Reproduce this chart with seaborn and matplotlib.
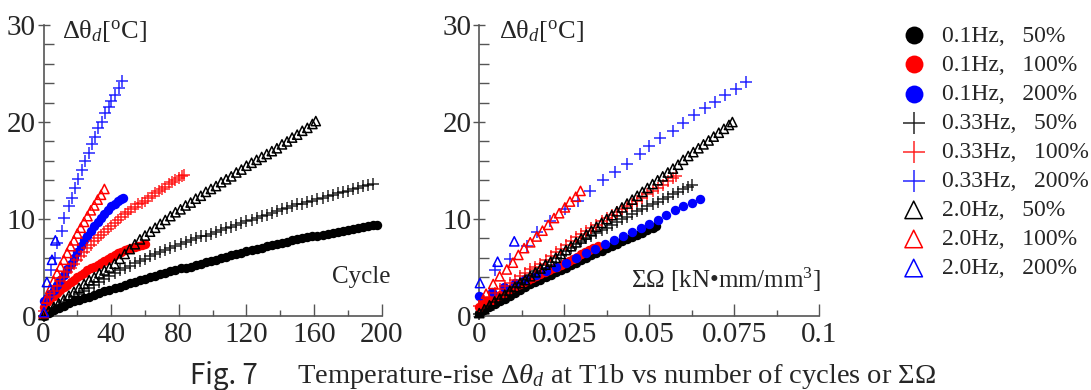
import matplotlib
matplotlib.use("Agg")
import matplotlib.pyplot as plt
from matplotlib.ticker import MultipleLocator, FuncFormatter
import seaborn as sns

# ---- datos (ciclos -> izquierda, Omega -> derecha) ----
# 0.1Hz 50%
c_01_50 = list(range(0, 196, 3)) + [197]
t_01_50_c = [0.0, 0.3, 0.6, 0.8, 1.0, 1.3, 1.5, 1.7, 1.9, 2.0, 2.2, 2.4, 2.6, 2.7, 2.9, 3.0,
             3.2, 3.4, 3.5, 3.7, 3.8, 4.0, 4.1, 4.3, 4.4, 4.6, 4.7, 4.9, 5.0, 5.1, 5.3, 5.4,
             5.6, 5.7, 5.8, 6.0, 6.1, 6.3, 6.4, 6.5, 6.7, 6.8, 6.9, 7.0, 7.2, 7.3, 7.4, 7.5,
             7.6, 7.8, 7.9, 8.0, 8.1, 8.2, 8.3, 8.4, 8.5, 8.6, 8.7, 8.8, 8.9, 9.0, 9.1, 9.2,
             9.3, 9.35, 9.4]
w_01_50 = [0.0, 0.0015, 0.003, 0.0045, 0.006, 0.0075, 0.009, 0.0105, 0.012, 0.0135, 0.015,
           0.0165, 0.018, 0.0195, 0.021, 0.0225, 0.024, 0.0255, 0.027, 0.0285, 0.03, 0.0315,
           0.033, 0.0345, 0.036, 0.0375, 0.039, 0.0405, 0.042, 0.0435, 0.045, 0.0465, 0.048,
           0.0495, 0.051, 0.052]
t_01_50_w = [0.3, 0.6, 0.9, 1.2, 1.5, 1.8, 2.1, 2.4, 2.7, 3.0, 3.25, 3.5, 3.75, 4.0, 4.25,
             4.5, 4.75, 5.0, 5.25, 5.5, 5.75, 6.0, 6.25, 6.5, 6.75, 7.0, 7.2, 7.45, 7.7, 7.9,
             8.15, 8.4, 8.6, 8.85, 9.1, 9.3]

# 0.1Hz 100%
c_01_100 = list(range(0, 61, 2))
t_01_100_c = [0.9, 1.4, 1.8, 2.1, 2.4, 2.7, 3.0, 3.2, 3.5, 3.7, 4.0, 4.2, 4.4, 4.7, 4.9, 5.1,
              5.3, 5.5, 5.7, 5.9, 6.1, 6.3, 6.5, 6.6, 6.8, 6.9, 7.0, 7.1, 7.2, 7.3, 7.4]
w_01_100 = [0.0, 0.0012, 0.0024, 0.0036, 0.0048, 0.006, 0.0072, 0.0084, 0.0096, 0.0108,
            0.012, 0.0132, 0.0144, 0.0156, 0.0168, 0.018, 0.0192, 0.0204, 0.0216, 0.0228,
            0.024, 0.0252, 0.0264, 0.0276, 0.0288, 0.03, 0.0312, 0.0324, 0.0336, 0.0348]
t_01_100_w = [0.9, 1.2, 1.5, 1.7, 2.0, 2.2, 2.4, 2.7, 2.9, 3.1, 3.3, 3.5, 3.7, 3.9, 4.1, 4.3,
              4.5, 4.7, 4.9, 5.1, 5.3, 5.5, 5.7, 5.9, 6.1, 6.4, 6.6, 6.8, 7.0, 7.2]

# 0.1Hz 200%
c_01_200 = list(range(0, 47, 2)) + [47]
t_01_200_c = [1.5, 1.9, 2.3, 2.7, 3.2, 3.7, 4.2, 4.8, 5.4, 6.0, 6.6, 7.2, 7.8, 8.3, 8.8, 9.3,
              9.7, 10.1, 10.5, 10.9, 11.3, 11.6, 11.9, 12.1, 12.2]
w_01_200 = [0.0, 0.0036, 0.0073, 0.0105, 0.0136, 0.0166, 0.0196, 0.0226, 0.0256, 0.0285,
            0.0313, 0.0341, 0.0369, 0.0396, 0.0423, 0.0449, 0.0475, 0.05, 0.0525, 0.055,
            0.0575, 0.06, 0.0625, 0.065]
t_01_200_w = [2.1, 2.5, 3.0, 3.4, 3.8, 4.2, 4.6, 5.1, 5.5, 6.0, 6.5, 6.9, 7.4, 7.8, 8.2, 8.7,
              9.1, 9.5, 9.9, 10.4, 10.9, 11.3, 11.7, 12.1]

# 0.33Hz 50%
c_033_50 = list(range(0, 196, 3))
t_033_50_c = [0.0, 0.4, 0.8, 1.1, 1.4, 1.7, 2.0, 2.3, 2.6, 2.9, 3.2, 3.5, 3.8, 4.1, 4.4, 4.7,
              5.0, 5.2, 5.5, 5.7, 5.9, 6.2, 6.4, 6.6, 6.8, 7.0, 7.2, 7.4, 7.6, 7.8, 8.0, 8.2,
              8.3, 8.5, 8.7, 8.9, 9.1, 9.2, 9.4, 9.6, 9.8, 9.9, 10.1, 10.3, 10.4, 10.6, 10.8,
              11.0, 11.1, 11.3, 11.5, 11.6, 11.8, 11.9, 12.1, 12.2, 12.4, 12.5, 12.7, 12.8,
              12.9, 13.1, 13.2, 13.4, 13.5, 13.6]
w_033_50 = [0.0, 0.0015, 0.003, 0.0045, 0.006, 0.0075, 0.009, 0.0105, 0.012, 0.0135, 0.015,
            0.0165, 0.018, 0.0195, 0.021, 0.0225, 0.024, 0.0255, 0.027, 0.0285, 0.03,
            0.0315, 0.033, 0.0345, 0.036, 0.0375, 0.039, 0.0405, 0.042, 0.0435, 0.045,
            0.0465, 0.048, 0.0495, 0.051, 0.0525, 0.054, 0.0555, 0.057, 0.0585, 0.06,
            0.0615, 0.0625]
t_033_50_w = [0.2, 0.6, 1.0, 1.4, 1.8, 2.2, 2.6, 3.0, 3.4, 3.8, 4.2, 4.6, 4.9, 5.3, 5.6, 6.0,
              6.3, 6.7, 7.0, 7.4, 7.7, 8.0, 8.3, 8.6, 8.9, 9.1, 9.4, 9.7, 10.0, 10.2, 10.5,
              10.8, 11.0, 11.3, 11.6, 11.8, 12.1, 12.3, 12.6, 12.8, 13.1, 13.3, 13.5]

# 0.33Hz 100%
c_033_100 = list(range(0, 83, 2)) + [83]
t_033_100_c = [0.5, 1.3, 2.0, 2.6, 3.1, 3.6, 4.0, 4.5, 4.9, 5.4, 5.8, 6.2, 6.6, 7.0, 7.3, 7.7,
               8.0, 8.4, 8.7, 9.0, 9.3, 9.6, 9.9, 10.2, 10.5, 10.7, 11.0, 11.2, 11.5, 11.7,
               11.9, 12.2, 12.4, 12.7, 12.9, 13.1, 13.3, 13.6, 13.8, 14.0, 14.2, 14.4, 14.5]
w_033_100 = [0.0, 0.0015, 0.003, 0.0045, 0.006, 0.0075, 0.009, 0.0105, 0.012, 0.0135, 0.015,
             0.0165, 0.018, 0.0195, 0.021, 0.0225, 0.024, 0.0255, 0.027, 0.0285, 0.03,
             0.0315, 0.033, 0.0345, 0.036, 0.0375, 0.039, 0.0405, 0.042, 0.0435, 0.045,
             0.0465, 0.048, 0.0495, 0.051, 0.0525, 0.054, 0.0555, 0.057, 0.058]
t_033_100_w = [1.0, 1.5, 2.0, 2.4, 2.8, 3.1, 3.4, 3.7, 4.1, 4.4, 4.8, 5.1, 5.4, 5.8, 6.2, 6.6,
               6.9, 7.3, 7.7, 8.1, 8.5, 8.8, 9.1, 9.4, 9.8, 10.1, 10.4, 10.7, 11.0, 11.3,
               11.6, 11.9, 12.2, 12.6, 12.9, 13.2, 13.5, 13.9, 14.2, 14.4]

# 0.33Hz 200%
c_033_200 = [4.5, 6.8, 8.2, 10.8, 12.2, 14.9, 17.1, 18.7, 20.3, 22.6, 24.6, 26.6, 28.6, 30.6,
             32.5, 34.5, 36.5, 38.5, 40.1, 42.4, 44.4, 46.4]
t_033_200_c = [4.75, 6.0, 7.5, 8.8, 10.15, 11.3, 12.2, 13.2, 14.1, 15.1, 16.0, 16.85, 17.7,
               18.5, 19.4, 20.0, 20.9, 21.6, 22.2, 22.8, 23.5, 24.2]
w_033_200 = [0.0046, 0.009, 0.014, 0.0171, 0.0208, 0.0252, 0.0292, 0.0326, 0.0363, 0.04,
             0.0436, 0.0472, 0.0501, 0.0532, 0.057, 0.0601, 0.0633, 0.0665, 0.0694, 0.0724,
             0.0755, 0.0786]
t_033_200_w = [4.7, 5.9, 7.2, 8.7, 9.8, 11.0, 11.9, 12.9, 14.0, 14.8, 15.7, 16.7, 17.5, 18.4,
               19.1, 19.9, 20.7, 21.4, 22.1, 22.8, 23.4, 24.1]

# 2.0Hz 50%
c_20_50 = list(range(0, 160, 3)) + [161]
t_20_50_c = [0.1, 0.5, 0.9, 1.3, 1.7, 2.1, 2.5, 2.9, 3.3, 3.7, 4.0, 4.4, 4.7, 5.0, 5.4, 5.9,
             6.4, 6.9, 7.4, 7.9, 8.3, 8.7, 9.1, 9.5, 9.9, 10.3, 10.7, 11.0, 11.4, 11.7, 12.1,
             12.4, 12.8, 13.1, 13.4, 13.8, 14.1, 14.4, 14.8, 15.1, 15.5, 15.8, 16.1, 16.4,
             16.7, 17.0, 17.3, 17.7, 18.0, 18.4, 18.7, 19.1, 19.4, 19.8, 20.1]
w_20_50 = [0.0, 0.0015, 0.003, 0.0045, 0.006, 0.0075, 0.009, 0.0105, 0.012, 0.0135, 0.015,
           0.0165, 0.018, 0.0195, 0.021, 0.0225, 0.024, 0.0255, 0.027, 0.0285, 0.03, 0.0315,
           0.033, 0.0345, 0.036, 0.0375, 0.039, 0.0405, 0.042, 0.0435, 0.045, 0.0465, 0.048,
           0.0495, 0.051, 0.0525, 0.054, 0.0555, 0.057, 0.0585, 0.06, 0.0615, 0.063, 0.0645,
           0.066, 0.0675, 0.069, 0.0705, 0.072, 0.0735, 0.0745]
t_20_50_w = [0.3, 0.7, 1.1, 1.5, 1.8, 2.2, 2.6, 3.0, 3.4, 3.7, 4.1, 4.5, 4.9, 5.3, 5.6, 6.0,
             6.4, 6.8, 7.2, 7.6, 8.0, 8.4, 8.8, 9.2, 9.6, 10.0, 10.4, 10.8, 11.2, 11.6, 12.0,
             12.4, 12.8, 13.2, 13.6, 14.0, 14.4, 14.8, 15.2, 15.6, 16.1, 16.5, 16.9, 17.3,
             17.7, 18.1, 18.5, 18.9, 19.3, 19.7, 20.0]

# 2.0Hz 100%
c_20_100 = list(range(0, 37, 2))
t_20_100_c = [0.3, 1.8, 2.8, 3.6, 4.4, 5.1, 5.8, 6.5, 7.2, 7.8, 8.5, 9.1, 9.7, 10.3, 10.9,
              11.4, 12.0, 12.5, 13.1]
w_20_100 = [0.002, 0.0041, 0.006, 0.0081, 0.0099, 0.0115, 0.0132, 0.015, 0.0169, 0.0186,
            0.0203, 0.022, 0.0235, 0.0252, 0.0267, 0.0284, 0.0298]
t_20_100_w = [2.3, 3.3, 4.1, 4.8, 5.5, 6.3, 7.0, 7.6, 8.2, 8.8, 9.4, 10.1, 10.6, 11.2, 11.8,
              12.3, 12.9]

# 2.0Hz 200%
c_20_200 = [0.3, 2.0, 5.0, 7.0]
t_20_200_c = [0.4, 3.5, 5.8, 7.8]
w_20_200 = [0.0002, 0.0054, 0.0103]
t_20_200_w = [3.4, 5.6, 7.7]

labels = ["0.1Hz,   50%", "0.1Hz,   100%", "0.1Hz,   200%",
          "0.33Hz,   50%", "0.33Hz,   100%", "0.33Hz,   200%",
          "2.0Hz,   50%", "2.0Hz,   100%", "2.0Hz,   200%"]

series = [
    (c_01_50, t_01_50_c, w_01_50, t_01_50_w, "o", "black"),
    (c_01_100, t_01_100_c, w_01_100, t_01_100_w, "o", "red"),
    (c_01_200, t_01_200_c, w_01_200, t_01_200_w, "o", "blue"),
    (c_033_50, t_033_50_c, w_033_50, t_033_50_w, "+", "black"),
    (c_033_100, t_033_100_c, w_033_100, t_033_100_w, "+", "red"),
    (c_033_200, t_033_200_c, w_033_200, t_033_200_w, "+", "blue"),
    (c_20_50, t_20_50_c, w_20_50, t_20_50_w, "^", "black"),
    (c_20_100, t_20_100_c, w_20_100, t_20_100_w, "^", "red"),
    (c_20_200, t_20_200_c, w_20_200, t_20_200_w, "^", "blue"),
]

sns.set_style("white")
plt.rcParams["font.family"] = ["Liberation Serif", "Noto Sans CJK JP", "DejaVu Sans"]
plt.rcParams["mathtext.fontset"] = "custom"
plt.rcParams["mathtext.rm"] = "Liberation Serif"
plt.rcParams["mathtext.it"] = "Liberation Serif:italic"

fig = plt.figure(figsize=(10.91, 3.9), dpi=100)
axL = fig.add_axes([0.0399, 0.1897, 0.310, 0.746])
axR = fig.add_axes([0.4393, 0.1897, 0.3114, 0.746])


def dibujar(ax, x, y, m, col, lab):
    if m == "o":
        sns.scatterplot(x=x, y=y, ax=ax, marker="o", color=col, s=46, linewidth=0,
                        legend=False, label=lab, clip_on=False, zorder=3)
    elif m == "+":
        sns.scatterplot(x=x, y=y, ax=ax, marker="+", color=col, s=64, linewidth=1.1,
                        alpha=0.85, legend=False, label=lab, clip_on=False, zorder=3)
    else:
        sns.scatterplot(x=x, y=y, ax=ax, marker="^", facecolor="none", edgecolor=col,
                        s=44, linewidth=1.1, legend=False, label=lab, clip_on=False,
                        zorder=3)


for (c, tc, w, tw, m, col), lab in zip(series, labels):
    dibujar(axL, c, tc, m, col, lab)
    dibujar(axR, w, tw, m, col, lab)

for ax in (axL, axR):
    ax.set_ylim(0, 30)
    ax.yaxis.set_major_locator(MultipleLocator(10))
    ax.yaxis.set_minor_locator(MultipleLocator(2))
    for s in ("top", "right"):
        ax.spines[s].set_visible(False)
    for s in ("left", "bottom"):
        ax.spines[s].set_color("#555555")
        ax.spines[s].set_linewidth(1.2)
    ax.tick_params(axis="y", which="major", direction="inout", length=9, width=1,
                   color="#555555", labelsize=21, pad=1, left=True)
    ax.tick_params(axis="y", which="minor", direction="in", length=7, width=1,
                   color="#555555", left=True)
    ax.tick_params(axis="x", which="major", direction="in", length=9, width=1,
                   color="#555555", labelsize=21, pad=4, bottom=True)
    ax.tick_params(axis="x", which="minor", direction="in", length=4.5, width=1,
                   color="#555555", bottom=True)
    ax.set_xlabel("")
    ax.set_ylabel("")

axL.set_xlim(0, 200)
axL.xaxis.set_major_locator(MultipleLocator(40))
axL.xaxis.set_minor_locator(MultipleLocator(20))
axR.set_xlim(0, 0.1)
axR.xaxis.set_major_locator(MultipleLocator(0.025))
axR.xaxis.set_minor_locator(MultipleLocator(0.0125))
axR.xaxis.set_major_formatter(FuncFormatter(lambda v, p: f"{v:g}"))

axL.text(11, 29.4, "Δθ$_{d}$[$^{\\rm o}$C]", fontsize=19, ha="left", va="center")
axR.text(0.0057, 29.4, "Δθ$_{d}$[$^{\\rm o}$C]", fontsize=19, ha="left", va="center")
axL.text(205, 4.0, "Cycle", fontsize=18, ha="right", va="center")
axR.text(0.1006, 3.7, "Σ$\\mathit{Ω}$ [kN•mm/mm$^{3}$]", fontsize=18, ha="right",
         va="center")

handles, labs = axL.get_legend_handles_labels()
fig.legend(handles, labs, loc="upper left", bbox_to_anchor=(0.818, 0.96),
           frameon=False, fontsize=17, markerscale=1.9, labelspacing=0.32,
           handlelength=1.0, handletextpad=0.7, borderaxespad=0)

fig.text(190 / 1091, 0.035, "Fig. 7", fontsize=20, family="Noto Sans CJK JP",
         ha="left", va="center")
fig.text(297 / 1091, 0.035,
         "Temperature-rise $\\mathit{Δθ}_{d}$ at T1b vs number of cycles or ΣΩ",
         fontsize=20.5, ha="left", va="center")

fig.savefig("out.png", dpi=100)
